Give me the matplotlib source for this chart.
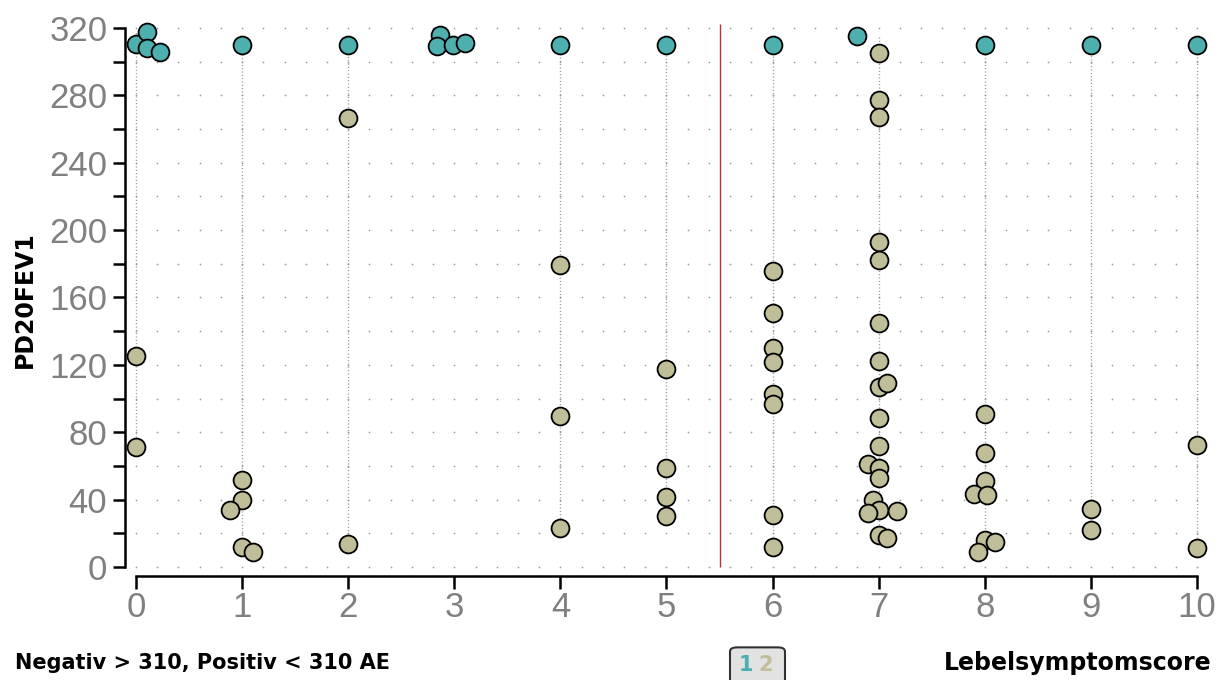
import numpy as np
import matplotlib.pyplot as plt
from matplotlib.patches import FancyBboxPatch

# Negativ (> 310 AE): jittered symptom score and PD20FEV1
neg_x = [0.0, 0.1, 0.1, 0.23, 1, 2, 2.87, 2.84, 2.99, 3.10, 4, 5, 6, 6.8, 8, 9, 10]
neg_y = [310.6, 317.5, 307.8, 305.5, 310, 310, 316, 309, 310, 311, 310, 310, 310, 315, 310, 310, 310]

# Positiv (< 310 AE)
pos_x = [0, 0,
         1, 1, 0.89, 1, 1.1,
         2, 2,
         4, 4, 4,
         5, 5, 5, 5,
         6, 6, 6, 6, 6, 6, 6, 6,
         7, 7, 7, 7, 7, 7, 7, 7, 7.08, 7, 7, 6.9, 7, 7, 6.95, 7, 6.9, 7.17, 7, 7.08,
         8, 8, 8, 7.9, 8.02, 8, 8.1, 7.94,
         9, 9,
         10, 10]
pos_y = [125.3, 71.3,
         51.7, 39.8, 33.8, 12.0, 8.9,
         266.6, 13.7,
         179.3, 89.8, 23.0,
         117.4, 58.6, 41.8, 30.5,
         176, 151, 130, 122, 103, 97, 31, 12,
         305, 277, 267, 193, 182, 145, 122.5, 107, 109.5, 88.3, 72, 61, 59, 53, 40, 34, 32, 33, 19, 17,
         91, 68, 51, 43.3, 42.8, 16, 15, 8.9,
         34.4, 22,
         72.4, 11.5]

cutoff_score = 5.5
teal = '#4DB0AF'
khaki = '#BFBE99'
tick_grey = '#808080'

fig = plt.figure(figsize=(12.22, 6.8), dpi=100)
ax = fig.add_axes([0.1026, 0.1529, 0.8856, 0.8309])
ax.set_xlim(-0.1, 10.1)
ax.set_ylim(-5.3, 330)

# dot lattice in background
gx, gy = np.meshgrid(np.arange(0, 10.01, 0.2), np.arange(0, 321, 20))
ax.scatter(gx.ravel(), gy.ravel(), s=1.5, color='#9a9a9a', linewidths=0, zorder=1)

# dotted vertical line per score, spanning that score's values
all_x = np.array(neg_x + pos_x)
all_y = np.array(neg_y + pos_y)
for score in range(11):
    sel = np.round(all_x) == score
    if sel.any():
        ax.vlines(score, all_y[sel].min(), all_y[sel].max(), colors='#8c8c8c',
                  linewidth=1, linestyles=(0, (0.7, 1.7)), zorder=2)

ax.vlines(cutoff_score, 0, 322, colors='#B83030', linewidth=1, zorder=2)

ax.scatter(pos_x, pos_y, s=165, color=khaki, edgecolors='black', linewidths=1.3, zorder=3)
ax.scatter(neg_x, neg_y, s=165, color=teal, edgecolors='black', linewidths=1.3, zorder=4)

for side in ['top', 'right']:
    ax.spines[side].set_visible(False)
ax.spines['left'].set_bounds(0, 320)
ax.spines['bottom'].set_bounds(0, 10)
ax.spines['left'].set_linewidth(1.8)
ax.spines['bottom'].set_linewidth(1.8)

ax.set_xticks(range(11))
ax.set_yticks(range(0, 321, 40))
ax.set_yticks(range(20, 320, 40), minor=True)
ax.tick_params(axis='both', which='both', direction='out', length=9, width=1.8,
               colors='black', labelcolor=tick_grey)
ax.tick_params(axis='y', pad=4)
ax.tick_params(axis='x', pad=2)
for lab in ax.get_xticklabels() + ax.get_yticklabels():
    lab.set_family('Liberation Sans')
    lab.set_fontsize(25)

fig.text(0.0205, 0.559, 'PD20FEV1', rotation=90, ha='center', va='center',
         fontsize=17, fontweight='bold')
fig.text(0.0123, 0.025, 'Negativ > 310, Positiv < 310 AE', ha='left', va='center',
         fontsize=15, fontweight='bold')
fig.text(0.9918, 0.025, 'Lebelsymptomscore', ha='right', va='center',
         fontsize=17, fontweight='bold')

# "12" count box
fig.patches.append(FancyBboxPatch((730 / 1222, -0.01), 55 / 1222, 0.058,
                                  boxstyle='round,pad=0,rounding_size=0.006',
                                  transform=fig.transFigure, facecolor='#E2E2E2',
                                  edgecolor='#333333', linewidth=1.5))
fig.text(746 / 1222, 0.022, '1', ha='center', va='center', fontsize=15,
         fontweight='bold', color=teal)
fig.text(766 / 1222, 0.022, '2', ha='center', va='center', fontsize=15,
         fontweight='bold', color=khaki)

fig.savefig('out.png', dpi=100)
